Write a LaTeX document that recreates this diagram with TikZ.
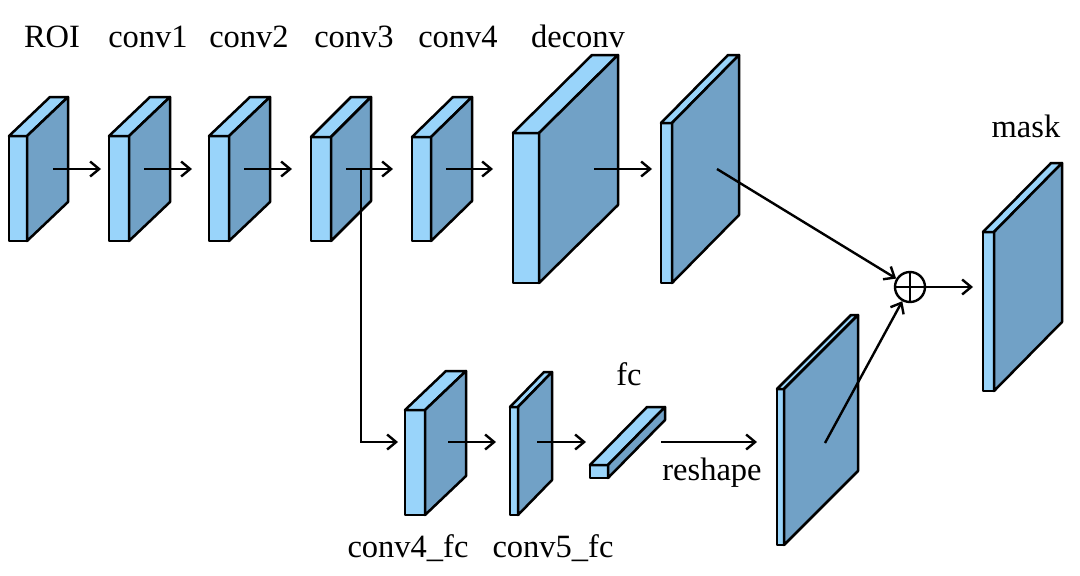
\documentclass[tikz,border=0pt]{standalone}
\usepackage{fontspec}
\setmainfont{Liberation Serif}
\usetikzlibrary{arrows.meta}
\definecolor{frontc}{RGB}{153,212,250}
\definecolor{sidec}{RGB}{113,161,198}
\tikzset{
  face/.style={draw=black,line width=2.5pt,line join=round},
  arr/.style={draw=black,line width=2.4pt,-{Straight Barb[length=9pt,width=15pt]}},
  plain/.style={draw=black,line width=2.4pt},
  lbl/.style={anchor=base,inner sep=0pt,font=\fontsize{32.5}{38}\selectfont},
}
\newcommand\blk[7]{%
  \coordinate (#1) at (#2,#3);
  \draw[face,fill=frontc] (#2,#3) rectangle ++(#4,#5);
  \draw[face,fill=frontc] (#2,#3) -- ++(#6,-#7) -- ++(#4,0) -- ++(-#6,#7) -- cycle;
  \draw[face,fill=sidec] (#2+#4,#3) -- ++(#6,-#7) -- ++(0,#5) -- ++(-#6,#7) -- cycle;
}
\begin{document}
\begin{tikzpicture}[x=1pt,y=-1pt]
\useasboundingbox (0,0) rectangle (1080,576);
% blocks
\blk{roi}{9}{136}{18}{105}{41}{39}
\blk{c1}{109}{136}{20}{105}{41}{39}
\blk{c2}{209}{136}{20}{105}{41}{39}
\blk{c3}{311}{137}{20}{104}{40}{40}
\blk{c4}{412}{137}{19}{104}{41}{40}
\blk{dc}{513}{133}{26}{150}{79}{78}
\blk{up}{661}{123}{11}{160}{67}{68}
\blk{mask}{983}{232}{11}{159}{68}{69}
\blk{rs}{777}{389}{7}{156}{74}{74}
\blk{c4fc}{405}{410}{20}{105}{41}{39}
\blk{c5fc}{510}{407}{8}{108}{34}{35}
\blk{fc}{590}{465}{18}{13}{57}{58}
% labels
\node[lbl] (lroi) at (52,47) {ROI};
\node[lbl] (lc1) at (148,47) {conv1};
\node[lbl] (lc2) at (249,47) {conv2};
\node[lbl] (lc3) at (354,47) {conv3};
\node[lbl] (lc4) at (458,47) {conv4};
\node[lbl] (ldc) at (578,47) {deconv};
\node[lbl] (lmask) at (1026,137) {mask};
\node[lbl] (lfc) at (629,385) {fc};
\node[lbl] (lrs) at (712,480) {reshape};
\node[lbl] (lc4fc) at (408,557) {conv4\_fc};
\node[lbl] (lc5fc) at (553,557) {conv5\_fc};
% connector points
\coordinate (a0s) at (53,169);  \coordinate (a0e) at (101,169);
\coordinate (a1s) at (144,169); \coordinate (a1e) at (192,169);
\coordinate (a2s) at (244,169); \coordinate (a2e) at (292,169);
\coordinate (a3s) at (346,169); \coordinate (a3e) at (393,169);
\coordinate (a4s) at (446,169); \coordinate (a4e) at (493,169);
\coordinate (a5s) at (594,169); \coordinate (a5e) at (652,169);
\coordinate (a6s) at (717,169);
\coordinate (bs) at (361,169);  \coordinate (be) at (398,442);
\coordinate (b1s) at (448,442); \coordinate (b1e) at (496,442);
\coordinate (b2s) at (537,442); \coordinate (b2e) at (586,442);
\coordinate (b3s) at (661,442); \coordinate (b3e) at (757,442);
\coordinate (rss) at (825,443);
\coordinate (oute) at (973,287);
\node[circle,draw=black,line width=2.4pt,minimum size=30pt,inner sep=0pt] (plus) at (910,287) {};
\draw[plain] (plus.north) -- (plus.south);
\draw[plain] (plus.west) -- (plus.east);
% arrows
\draw[arr] (a0s) -- (a0e);
\draw[arr] (a1s) -- (a1e);
\draw[arr] (a2s) -- (a2e);
\draw[arr] (a3s) -- (a3e);
\draw[arr] (a4s) -- (a4e);
\draw[arr] (a5s) -- (a5e);
\draw[arr] (a6s) -- (plus);
\draw[arr] (bs) |- (be);
\draw[arr] (b1s) -- (b1e);
\draw[arr] (b2s) -- (b2e);
\draw[arr] (b3s) -- (b3e);
\draw[arr] (rss) -- (plus);
\draw[arr] (plus) -- (oute);
\end{tikzpicture}
\end{document}
